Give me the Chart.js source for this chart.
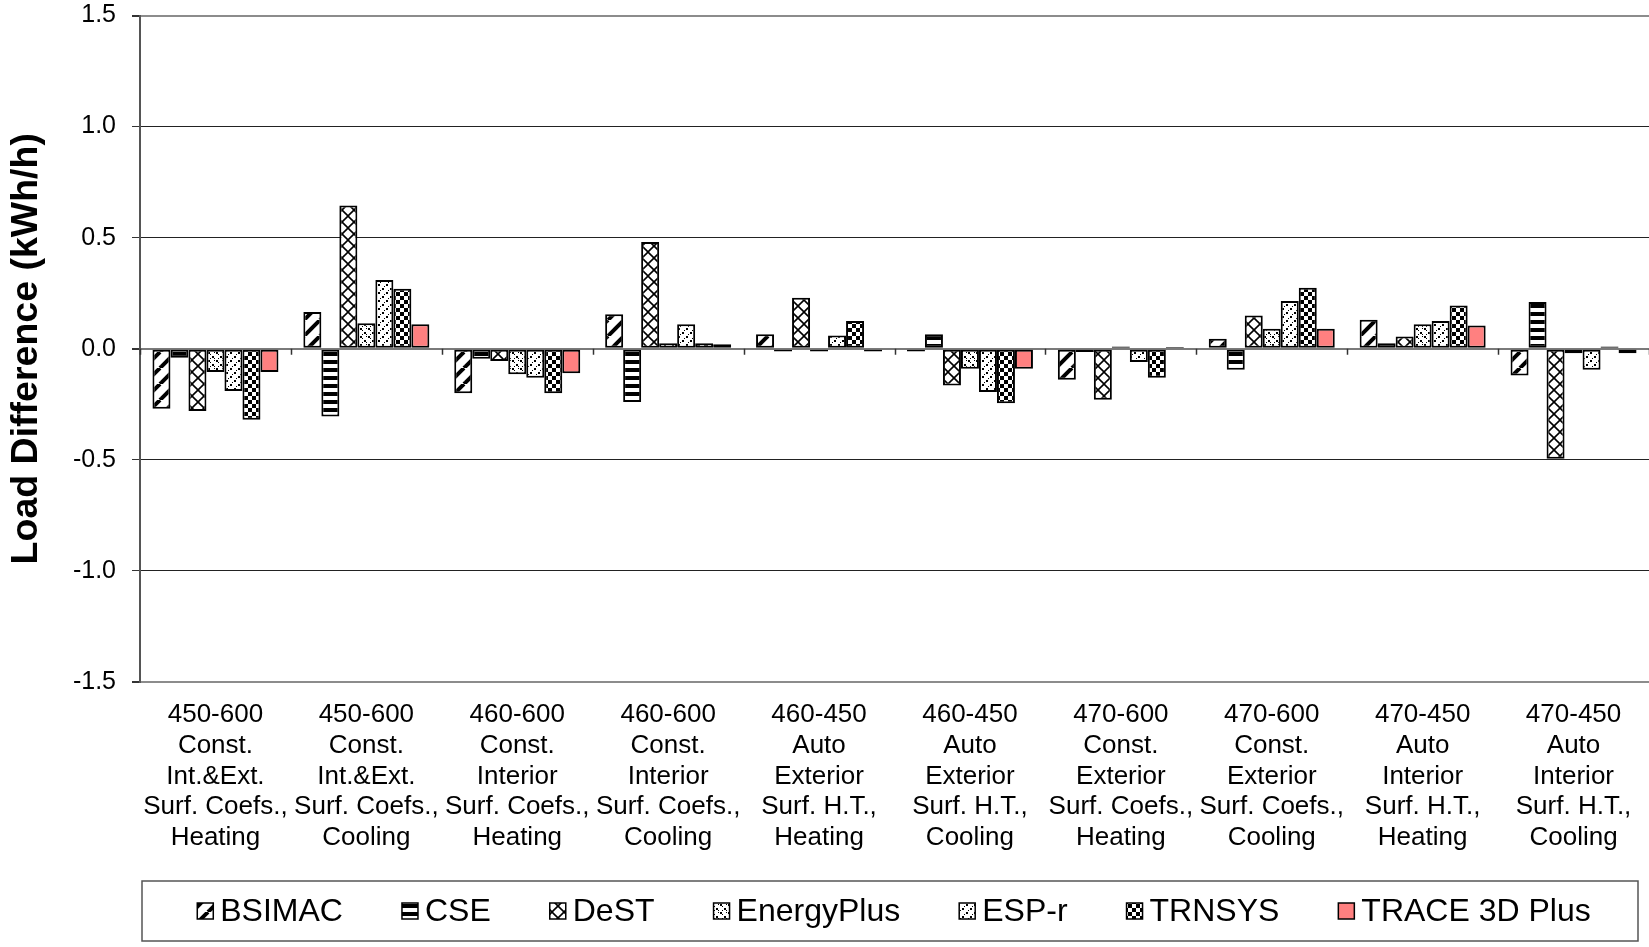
<!DOCTYPE html>
<html>
<head>
<meta charset="utf-8">
<script src="https://cdn.jsdelivr.net/npm/chart.js@4"></script>
<style>
  html, body { margin: 0; padding: 0; background: #fff; }
  #wrap { width: 1649px; height: 947px; }
</style>
</head>
<body>
<div id="wrap"><canvas id="loadChart" width="1649" height="947"></canvas></div>
<script>
/* ---------- data ---------- */
const categories = [
  ["450-600", "Const.", "Int.&Ext.", "Surf. Coefs.,", "Heating"],
  ["450-600", "Const.", "Int.&Ext.", "Surf. Coefs.,", "Cooling"],
  ["460-600", "Const.", "Interior", "Surf. Coefs.,", "Heating"],
  ["460-600", "Const.", "Interior", "Surf. Coefs.,", "Cooling"],
  ["460-450", "Auto", "Exterior", "Surf. H.T.,", "Heating"],
  ["460-450", "Auto", "Exterior", "Surf. H.T.,", "Cooling"],
  ["470-600", "Const.", "Exterior", "Surf. Coefs.,", "Heating"],
  ["470-600", "Const.", "Exterior", "Surf. Coefs.,", "Cooling"],
  ["470-450", "Auto", "Interior", "Surf. H.T.,", "Heating"],
  ["470-450", "Auto", "Interior", "Surf. H.T.,", "Cooling"],
];
const programs = ["BSIMAC", "CSE", "DeST", "EnergyPlus", "ESP-r", "TRNSYS", "TRACE 3D Plus"];

const bsimac     = [-0.27, 0.165, -0.20, 0.155, 0.065, -0.012, -0.14, 0.045, 0.13, -0.12];
const cse        = [-0.04, -0.305, -0.045, -0.24, -0.012, 0.065, -0.015, -0.095, 0.025, 0.21];
const dest       = [-0.28, 0.645, -0.055, 0.48, 0.23, -0.165, -0.23, 0.15, 0.055, -0.495];
const energyplus = [-0.105, 0.115, -0.115, 0.025, -0.012, -0.09, 0.01, 0.09, 0.11, -0.02];
const espr       = [-0.19, 0.31, -0.13, 0.11, 0.06, -0.195, -0.06, 0.215, 0.125, -0.095];
const trnsys     = [-0.32, 0.27, -0.20, 0.025, 0.125, -0.245, -0.13, 0.275, 0.195, 0.01];
const trace3d    = [-0.105, 0.11, -0.11, 0.02, -0.012, -0.09, 0.008, 0.09, 0.105, -0.02];

const yTicks = [-1.5, -1.0, -0.5, 0.0, 0.5, 1.0, 1.5];

/* ---------- hatch patterns (Excel style) ---------- */
function makePattern(w, h, draw) {
  const c = document.createElement("canvas");
  c.width = w; c.height = h;
  const g = c.getContext("2d");
  g.fillStyle = "#fff";
  g.fillRect(0, 0, w, h);
  g.fillStyle = "#000";
  g.strokeStyle = "#000";
  draw(g, w, h);
  return document.createElement("canvas").getContext("2d").createPattern(c, "repeat");
}

const fills = [
  // BSIMAC: wide forward diagonal
  makePattern(16, 16, (g) => {
    g.lineWidth = 4;
    for (let o = -16; o <= 16; o += 16) {
      g.beginPath(); g.moveTo(o, 16); g.lineTo(o + 16, 0); g.stroke();
    }
  }),
  // CSE: horizontal bars
  makePattern(8, 8, (g) => { g.fillRect(0, 0, 8, 4); }),
  // DeST: diagonal lattice
  makePattern(12, 12, (g) => {
    g.lineWidth = 1.6;
    g.beginPath(); g.moveTo(0, 0); g.lineTo(12, 12); g.stroke();
    g.beginPath(); g.moveTo(12, 0); g.lineTo(0, 12); g.stroke();
  }),
  // EnergyPlus: back diagonal, dotted
  makePattern(8, 8, (g) => {
    g.fillRect(0, 0, 2, 2); g.fillRect(2, 2, 1, 1); g.fillRect(4, 4, 2, 2); g.fillRect(6, 6, 1, 1);
    g.fillRect(6, 0, 1, 1); g.fillRect(2, 6, 1, 1);
  }),
  // ESP-r: light forward diagonal
  makePattern(8, 8, (g) => {
    g.fillRect(6, 0, 2, 2); g.fillRect(4, 2, 1, 1); g.fillRect(2, 4, 2, 2); g.fillRect(0, 6, 1, 1);
  }),
  // TRNSYS: checkerboard
  makePattern(8, 8, (g) => { g.fillRect(0, 0, 4, 4); g.fillRect(4, 4, 4, 4); }),
  // TRACE 3D Plus: solid salmon
  "#FF8080",
];

const seriesValues = [bsimac, cse, dest, energyplus, espr, trnsys, trace3d];

/* ---------- plugins ---------- */
// small tick marks on the category axis, which crosses at y = 0
const zeroAxisTicks = {
  id: "zeroAxisTicks",
  beforeDatasetsDraw(chart) {
    const { ctx, chartArea, scales } = chart;
    const y0 = scales.y.getPixelForValue(0);
    const n = categories.length;
    const step = (chartArea.right - chartArea.left) / n;
    ctx.save();
    ctx.strokeStyle = "#333";
    ctx.lineWidth = 1.5;
    for (let i = 0; i <= n; i++) {
      const x = Math.round(chartArea.left + i * step) + 0.5;
      ctx.beginPath(); ctx.moveTo(x, y0); ctx.lineTo(x, y0 + 6); ctx.stroke();
    }
    ctx.restore();
  },
};

// boxed legend under the chart
const boxedLegend = {
  id: "boxedLegend",
  afterDraw(chart) {
    const { ctx } = chart;
    const box = { left: 142, top: 881, right: 1638, bottom: 941 };
    const font = "32px 'Liberation Sans', Arial, sans-serif";
    const sw = 16, gapText = 7, gapItem = 59;
    ctx.save();
    ctx.strokeStyle = "#555";
    ctx.lineWidth = 1.5;
    ctx.strokeRect(box.left, box.top, box.right - box.left, box.bottom - box.top);
    ctx.font = font;
    const widths = programs.map(p => sw + gapText + ctx.measureText(p).width);
    const total = widths.reduce((a, b) => a + b, 0) + gapItem * (programs.length - 1);
    let x = (box.left + box.right) / 2 - total / 2 + 4;
    const cy = (box.top + box.bottom) / 2;
    programs.forEach((p, i) => {
      ctx.fillStyle = fills[i];
      ctx.fillRect(x, cy - sw / 2, sw, sw);
      ctx.strokeStyle = "#000";
      ctx.lineWidth = 1.5;
      ctx.strokeRect(x, cy - sw / 2, sw, sw);
      ctx.fillStyle = "#000";
      ctx.textBaseline = "middle";
      ctx.fillText(p, x + sw + gapText, cy + 1);
      x += widths[i] + gapItem;
    });
    ctx.restore();
  },
};

/* ---------- chart ---------- */
const ctx = document.getElementById("loadChart").getContext("2d");
new Chart(ctx, {
  type: "bar",
  data: {
    labels: categories,
    datasets: programs.map((p, i) => ({
      label: p,
      data: seriesValues[i],
      backgroundColor: fills[i],
      borderColor: "#000",
      borderWidth: 2,
      borderSkipped: false,
      barPercentage: 1.0,
      categoryPercentage: 0.835,
    })),
  },
  options: {
    responsive: false,
    animation: false,
    devicePixelRatio: 1,
    layout: { padding: { top: 1, right: 0, bottom: 75, left: 0 } },
    plugins: {
      legend: { display: false },
      tooltip: { enabled: false },
    },
    scales: {
      x: {
        offset: true,
        grid: { display: false, drawTicks: false },
        border: { display: false },
        ticks: {
          autoSkip: false,
          maxRotation: 0,
          minRotation: 0,
          padding: 17,
          color: "#000",
          font: { family: "'Liberation Sans', Arial, sans-serif", size: 26, lineHeight: 1.19 },
        },
        afterFit(s) { s.height = 190; },
      },
      y: {
        min: -1.5,
        max: 1.5,
        afterBuildTicks(s) { s.ticks = yTicks.map(v => ({ value: v })); },
        ticks: {
          padding: 16,
          color: "#000",
          font: { family: "'Liberation Sans', Arial, sans-serif", size: 25 },
          callback: v => Number(v).toFixed(1),
        },
        grid: {
          tickLength: 8,
          tickColor: "#333",
          color: c => {
            const v = c.tick ? c.tick.value : null;
            if (v === 1.5 || v === -1.5) return "#8c8c8c";
            if (v === 0) return "#7a7a7a";
            return "#222";
          },
          lineWidth: c => {
            const v = c.tick ? c.tick.value : null;
            if (v === 1.5 || v === -1.5 || v === 0) return 2;
            return 1;
          },
        },
        border: { color: "#555", width: 2 },
        title: {
          display: true,
          text: "Load Difference (kWh/h)",
          color: "#000",
          padding: { top: 4, bottom: 0 },
          font: { family: "'Liberation Sans', Arial, sans-serif", size: 37.5, weight: "bold" },
        },
        afterFit(s) {
          s.width = 140;
          s.paddingTop = 15.5;
          s.paddingBottom = 15.5;
        },
      },
    },
  },
  plugins: [zeroAxisTicks, boxedLegend],
});
</script>
</body>
</html>
